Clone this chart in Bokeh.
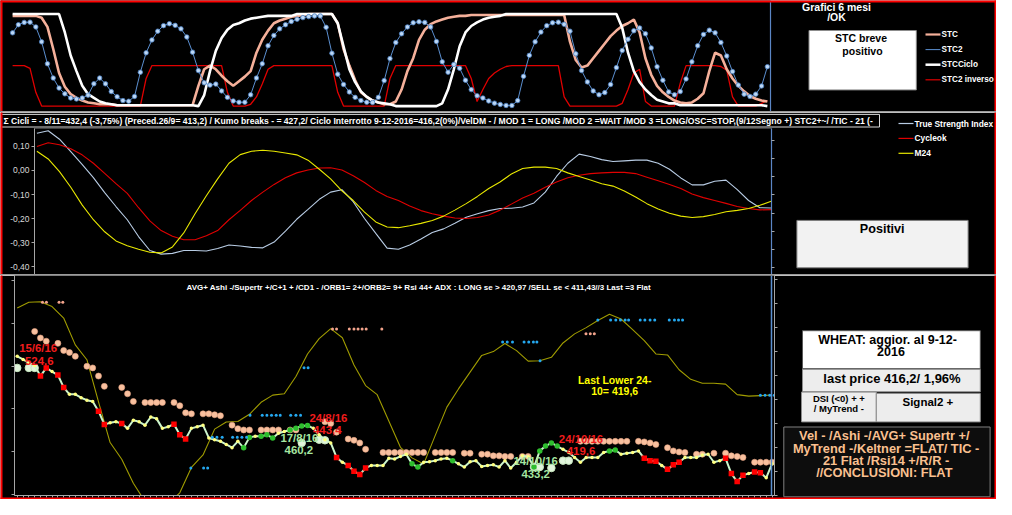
import numpy as np
from bokeh.plotting import figure
from bokeh.models import (Range1d, LinearAxis, FixedTicker, SingleIntervalTicker,
                          CustomJSTickFormatter, Span)
from bokeh.embed import file_html
from bokeh.resources import INLINE
from bokeh.core.properties import value

# ------------------------------------------------------------------ data
days = list(range(131))            # trading days 15/6/16 .. 9/12/16
osc_days = list(range(0, 131, 2))  # oscillators / ADX sampled every 2nd day

stc = [98, 98, 98, 98, 98, 96, 86, 62, 36, 21,
       13, 9, 6, 4, 3, 2, 2, 2, 1, 1,
       1, 1, 1, 1, 1, 1, 1, 1, 1, 1,
       1, 1, 22, 40, 44, 40, 33, 27, 22, 27,
       32, 38, 58, 72, 82, 90, 93, 95, 97, 98,
       99, 100, 100, 100, 100, 100, 90, 62, 44, 28,
       15, 10, 6, 4, 2, 2, 5, 18, 38, 52,
       72, 83, 89, 92, 94, 96, 97, 98, 98, 99,
       99, 99, 99, 99, 99, 99, 99, 99, 99, 99,
       99, 99, 99, 99, 99, 99, 70, 50, 42, 44,
       52, 60, 68, 76, 82, 87, 90, 94, 80, 52,
       34, 22, 15, 10, 6, 4, 3, 4, 8, 14,
       38, 58, 55, 40, 30, 22, 16, 11, 8, 6,
       5]
stc2 = [79.6, 88.4, 90.9, 91.2, 86, 69.8, 46, 30.5, 19.6, 13.3,
        8.8, 7.7, 8.8, 11.9, 24.2, 30.5, 24.2, 15.8, 10.2, 6,
        5.3, 10.5, 36.8, 57.9, 71.9, 81.4, 87.4, 89.5, 87.7, 83.9,
        75.1, 58.6, 38.6, 25.3, 22.8, 23.9, 16.5, 9.5, 5.6, 4.2,
        4.2, 12.3, 30.5, 46, 65.6, 76.8, 83.9, 88.4, 91.9, 94.4,
        96.1, 97.2, 97.9, 97.9, 85.6, 57.5, 34.7, 23.5, 15.4, 9.5,
        6, 4.2, 3.9, 9.5, 27.7, 51.6, 69.1, 78.6, 86, 90.5,
        91.6, 90.9, 86, 70.2, 48.1, 36.8, 45.3, 41.1, 28.1, 17.9,
        11.2, 8.8, 5.6, 3.2, 1.8, 0.7, 0.7, 6, 32.3, 55.1,
        69.8, 80.4, 87.4, 90.5, 91.2, 88.8, 81.4, 56.8, 38.6, 26.3,
        16.5, 12.3, 14.7, 23.5, 41.8, 60.4, 72.6, 81.8, 84.9, 78.6,
        63.2, 42.8, 28.1, 15.4, 12.3, 15.8, 29.5, 48.1, 65.6, 77.9,
        82.5, 79.6, 69.1, 54.4, 37.5, 22.8, 13, 10.5, 13, 21.8,
        42.8]
stc_ciclo = [100, 100, 100, 100, 100, 100, 100, 100, 100, 80,
             55, 38, 22, 13, 9, 5, 3, 2, 1, 1,
             1, 1, 1, 1, 1, 1, 1, 1, 1, 1,
             1, 1, 0, 12, 38, 60, 74, 83, 88, 90,
             93, 95, 96, 97, 98, 98, 98, 98, 98, 100,
             100, 100, 100, 100, 100, 100, 90, 65, 40, 26,
             16, 10, 6, 4, 3, 2, 0, 0, 0, 0,
             0, 0, 0, 0, 3, 18, 40, 65, 80, 87,
             91, 94, 96, 97, 98, 100, 100, 100, 100, 100,
             100, 100, 100, 100, 100, 100, 100, 100, 100, 100,
             100, 100, 100, 100, 100, 85, 58, 38, 26, 18,
             12, 7, 5, 3, 3, 1, 1, 1, 1, 1,
             1, 1, 1, 1, 1, 1, 1, 1, 1, 1,
             0]
stc2_inverso = [44, 44, 44, 41, 15, 0, 0, 0, 0, 0,
                0, 0, 0, 0, 0, 0, 0, 0, 0, 0,
                0, 0, 0, 30, 44, 44, 44, 44, 44, 44,
                44, 44, 44, 44, 44, 44, 44, 15, 0, 0,
                0, 2, 10, 24, 40, 44, 44, 44, 44, 44,
                44, 44, 44, 44, 44, 44, 15, 0, 0, 0,
                0, 0, 0, 0, 0, 30, 44, 44, 44, 44,
                44, 44, 44, 44, 44, 44, 44, 44, 44, 30,
                5, 18, 30, 36, 40, 43, 44, 44, 44, 44,
                44, 44, 44, 44, 44, 10, 0, 0, 0, 0,
                0, 0, 0, 0, 0, 3, 18, 36, 40, 5,
                0, 0, 0, 0, 0, 25, 44, 44, 44, 44,
                44, 44, 43, 39, 10, 0, 0, 0, 0, 3,
                6]
stc_series = ["STC", "STC2", "STCCiclo", "STC2 inverso"]

tsi = [0.155, 0.165, 0.13, 0.078, 0.025, -0.03, -0.092, -0.15, -0.205, -0.275,
       -0.333, -0.348, -0.345, -0.333, -0.333, -0.335, -0.325, -0.31, -0.314, -0.32,
       -0.322, -0.298, -0.252, -0.203, -0.162, -0.12, -0.09, -0.08, -0.13, -0.2,
       -0.262, -0.323, -0.328, -0.31, -0.285, -0.258, -0.243, -0.22, -0.195, -0.18,
       -0.167, -0.158, -0.157, -0.152, -0.135, -0.09, -0.025, 0.03, 0.068, 0.058,
       0.045, 0.037, 0.04, 0.043, 0.043, 0.03, 0.005, -0.031, -0.06, -0.06,
       -0.045, -0.04, -0.08, -0.125, -0.155, -0.156]
cycleok = [0.10, 0.115, 0.107, 0.09, 0.065, 0.03, -0.012, -0.055, -0.095, -0.155,
           -0.21, -0.25, -0.274, -0.288, -0.288, -0.272, -0.25, -0.205, -0.166, -0.125,
           -0.09, -0.058, -0.03, -0.01, 0.002, 0.01, 0.011, 0.002, -0.022, -0.05,
           -0.083, -0.108, -0.125, -0.148, -0.167, -0.18, -0.19, -0.198, -0.2, -0.196,
           -0.185, -0.165, -0.14, -0.115, -0.095, -0.07, -0.048, -0.03, -0.02, -0.013,
           -0.01, -0.008, -0.008, -0.013, -0.028, -0.043, -0.058, -0.075, -0.098, -0.113,
           -0.125, -0.137, -0.15, -0.158, -0.164, -0.163]
m24 = [0.08, 0.048, -0.005, -0.07, -0.143, -0.205, -0.255, -0.293, -0.313, -0.328,
       -0.34, -0.343, -0.318, -0.26, -0.18, -0.105, -0.035, 0.03, 0.066, 0.08,
       0.084, 0.08, 0.073, 0.065, 0.043, 0.005, -0.035, -0.085, -0.125, -0.173,
       -0.214, -0.235, -0.238, -0.23, -0.22, -0.208, -0.19, -0.165, -0.138, -0.108,
       -0.075, -0.048, -0.015, 0.008, 0.014, 0.014, 0.008, -0.01, -0.025, -0.04,
       -0.055, -0.065, -0.085, -0.11, -0.138, -0.16, -0.178, -0.19, -0.196, -0.192,
       -0.183, -0.172, -0.166, -0.158, -0.145, -0.128]
osc_series = ["True Strength Index", "Cycleok", "M24"]
osc_ticks = [-0.40, -0.30, -0.20, -0.10, 0.00, 0.10]
osc_right_ticks = [0.124, 0.048, -0.027, -0.102, -0.177, -0.252, -0.327, -0.403]

price = [490.0, 487.8, 485.5, 483.7, 476.4, 482.0, 479.5, 477.1, 468.6, 463.8,
         463.8, 461.5, 459.8, 458.9, 452.2, 443.1, 444.2, 444.9, 443.8, 440.4,
         446.0, 444.9, 442.6, 448.2, 447.1, 440.4, 441.5, 443.3, 436.0, 433.1,
         440.4, 441.5, 442.6, 433.8, 432.6, 431.5, 429.3, 427.1, 431.5, 427.1,
         434.2, 434.9, 434.9, 436.0, 433.8, 437.1, 438.2, 439.3, 440.4, 442.0,
         442.4, 440.4, 436.0, 432.6, 430.4, 420.4, 417.1, 414.9, 410.9, 408.6,
         413.1, 414.9, 414.9, 414.9, 419.8, 419.3, 421.1, 422.6, 416.0, 413.8,
         417.1, 417.5, 418.2, 419.3, 419.8, 418.2, 416.0, 413.8, 417.5, 418.2,
         414.2, 414.9, 415.3, 413.8, 418.2, 413.1, 417.1, 421.5, 420.9, 413.8,
         424.9, 428.2, 430.4, 428.2, 426.0, 423.8, 420.4, 417.1, 420.4, 420.4,
         420.4, 423.8, 424.9, 425.5, 422.6, 423.3, 423.8, 424.9, 419.8, 418.2,
         417.8, 414.9, 412.2, 415.3, 417.1, 420.4, 420.4, 420.4, 422.0, 422.6,
         417.1, 418.2, 419.8, 409.3, 403.8, 408.2, 409.3, 410.4, 409.9, 406.4,
         416.0]
red_days = [4, 5, 7, 8, 14, 15, 18, 27, 28, 29, 55, 57, 58, 59, 60,
            108, 109, 110, 112, 113, 114, 122, 123, 124, 125, 127, 128]
green_days = [39, 40, 42, 43, 44, 47, 48, 49, 50, 68, 69, 75, 89, 90, 91, 92, 93, 102, 103]
ashi = [None, None, None, 507.1, 502.6, 500.4, None, 498.9, 494.0, 492.6,
        490.0, None, 483.1, 482.0, 476.4, 469.3, None, None, 468.6, 464.2,
        458.9, None, 458.2, 458.2, 458.2, 458.2, None, 458.2, 456.0, 451.1,
        450.4, None, 450.4, 450.4, 449.8, 449.1, None, 442.6, 440.2, 439.3,
        439.3, None, 439.3, 439.3, 439.3, 439.3, None, 439.3, 439.3, None,
        None, None, None, 444.9, 443.8, 437.8, None, 433.1, 432.2, 430.4,
        426.0, None, None, 423.8, 423.8, 423.8, 423.8, 423.8, 423.8, 423.8,
        423.8, None, 423.8, 423.8, 423.8, 423.8, None, 423.3, 423.3, None,
        422.6, 422.6, 421.5, 421.5, 421.1, 421.1, None, 421.1, 421.1, None,
        None, None, None, None, None, None, None, 431.5, 431.5, 431.5,
        431.5, 431.5, 431.5, 431.5, 431.5, 431.5, None, 431.5, 431.1, 430.4,
        429.3, None, 427.1, 424.9, 424.2, 423.8, None, 422.6, 422.6, None,
        423.3, None, 423.3, 421.5, 421.1, 420.4, None, 417.1, 417.1, 417.1,
        417.1]
pale_days = [0, 2, 3, 49, 52, 53, 89, 90, 92, 94, 95]
pale_price = [482.0, 482.0, 482.0, 430.4, 432.6, 432.2, 413.8, 413.8, 413.1, 418.2, 418.2]
adx = [39.1, 40.3, 40.4, 39.4, 37.0, 31.4, 28.3, 19.5, 11.0, 7.5,
       2.5, -1.3, -3.2, -1.8, 0.5, 5.8, 8.4, 13.8, 15.3, 15.4,
       16.9, 19.4, 20.9, 21.2, 24.8, 29.5, 32.7, 34.8, 32.9, 27.2,
       22.9, 21.0, 15.5, 10.0, 7.8, 6.5, 12.5, 18.4, 22.2, 25.7,
       29.2, 30.0, 31.7, 30.2, 28.0, 28.1, 28.8, 31.8, 33.7, 35.0,
       36.5, 37.8, 36.8, 34.6, 32.3, 29.5, 29.3, 26.2, 24.2, 23.4,
       23.4, 23.2, 21.0, 20.7, 20.8, 20.9]
blue_day = [29.9, 32.1, 32.8,
            33.6, 34.4, 35.3, 37.1, 37.9, 38.7, 39.5,
            40.1, 42.2, 43.0, 43.8, 44.6, 45.3, 47.1, 48.0, 48.8,
            49.4, 50.1,
            83.6, 84.4, 85.3, 87.3, 88.1, 88.9, 89.5,
            90.05,
            100.0, 102.2, 103.1, 103.9, 104.7, 105.3, 107.3, 108.1, 109.0, 109.8,
            112.3, 113.2, 113.9, 114.6,
            128.0, 128.8, 129.6, 130.4]
blue_lvl = [5.7, 5.7, 5.7,
            12.1, 12.1, 12.1, 12.1, 12.1, 12.1, 12.1,
            16.7, 16.7, 16.7, 16.7, 16.7, 16.7, 16.7, 16.7, 16.7,
            26.6, 26.6,
            32.0, 32.0, 32.0, 32.0, 32.0, 32.0, 32.0,
            28.1,
            36.6, 36.6, 36.6, 36.6, 36.6, 36.6, 36.6, 36.6, 36.6, 36.6,
            36.6, 36.6, 36.6, 36.6,
            20.9, 20.9, 20.9, 20.9]
pink_day = [4.35, 5.03, 7.2, 7.85,
            54.3, 55.0, 57.2, 58.0, 58.7, 59.4, 60.1, 62.8,
            97.96, 98.7, 99.4]
pink_lvl = [40.3, 40.3, 40.3, 40.3,
            34.7, 34.7, 34.7, 34.7, 34.7, 34.7, 34.7, 34.7,
            33.7, 33.7, 33.7]
price_ticks = [394.6, 424.3, 453.8, 483.3, 512.8, 542.3]
adx_ticks = [0, 5, 10, 15, 20, 25, 30, 35, 40, 45]

lbl_text = ["15/6/16", "524,6", "24/8/16", "443,4", "17/8/16", "460,2",
            "24/10/16", "419,6", "14/10/16", "433,2"]
lbl_day = [3.6, 3.8, 53.6, 53.4, 48.6, 48.5, 97.1, 97.1, 89.3, 89.3]
lbl_price = [495.6, 486.9, 447.7, 439.3, 433.7, 425.3, 433.1, 424.9, 418.2, 409.3]
lbl_color = ["#f01c1c", "#f01c1c", "#f01c1c", "#f01c1c", "#a6e6a0", "#a6e6a0",
             "#f01c1c", "#f01c1c", "#a6e6a0", "#a6e6a0"]
last_text = ["Last Lower 24-", "10= 419,6"]
last_day = [102.9, 102.9]
last_price = [473.8, 466.0]

title2 = ("\u03a3 Cicli = - 8/11=432,4 (-3,75%) (Preced.26/9= 413,2) / Kumo breaks - = 427,2/  "
          "Ciclo Interrotto 9-12-2016=416,2(0%)/VelDM - / MOD 1 = LONG /MOD 2  =WAIT /MOD 3  "
          "=LONG/OSC=STOP,(9/12Segno +) STC2+~/  /TIC - 21 (-")
title3 = ("AVG+  Ashi -/Supertr +/C+1 + /CD1 - /ORB1= 2+/ORB2= 9+ Rsi 44+  ADX : LONG se > "
          "420,97 /SELL se < 411,43//3 Last =3 Flat")

# ------------------------------------------------------------------ helpers
FONT = "Liberation Sans"
W = 996
GRID = "#a6a6a6"


def make_fig(h, xr, yr, left, right, top, bottom, px, py, extra_y=None):
    p = figure(width=W, height=h, x_range=xr, y_range=yr,
               x_axis_type=None, y_axis_type=None,
               output_backend="svg", toolbar_location=None,
               min_border_left=left, min_border_right=right,
               min_border_top=top, min_border_bottom=bottom,
               background_fill_color="black", border_fill_color="black",
               outline_line_color=None)
    # "px"/"py": pixel coordinates of the canvas, for the boxes and legends
    p.extra_x_ranges = {"px": Range1d(*px)}
    ey = {"py": Range1d(*py)}
    if extra_y:
        ey.update(extra_y)
    p.extra_y_ranges = ey
    return p


def texts(p, xs, ys, labels, size, color, style="bold", align="center"):
    p.text(x=xs, y=ys, text=labels, x_range_name="px", y_range_name="py",
           level="overlay", text_font=value(FONT), text_font_size=size,
           text_font_style=style, text_color=color, text_align=align,
           text_baseline="middle")


def box(p, l, r, t, b, fill, line="#7f7f7f", lw=1):
    p.quad(left=[l], right=[r], top=[t], bottom=[b], x_range_name="px",
           y_range_name="py", level="overlay", fill_color=fill,
           line_color=line, line_width=lw)


def plain_axis(**kw):
    base = dict(axis_line_color=GRID, major_tick_line_color=GRID, major_tick_in=0,
                major_tick_out=3, minor_tick_line_color=None,
                major_label_text_color=None, major_label_text_font_size="1px",
                major_label_standoff=0)
    base.update(kw)
    return LinearAxis(**base)


def side_legend(p, x0, y0, step, labels, colors, widths, size):
    ys = [y0 + step * k for k in range(len(labels))]
    p.segment(x0=[x0] * len(ys), x1=[x0 + 15] * len(ys), y0=ys, y1=ys,
              line_color=colors, line_width=widths, x_range_name="px",
              y_range_name="py", level="overlay")
    texts(p, [x0 + 16] * len(ys), ys, labels, size, "white", align="left")
    return ys


# ------------------------------------------------------------------ row 1 : STC
p1 = make_fig(112, Range1d(-2.084, 130.54), Range1d(-6.95, 114.7),
              0, 226, 0, 0, (0, 770), (112, 0))
p1.add_layout(plain_axis(ticker=FixedTicker(ticks=[]), axis_line_color="#5b86c5",
                         axis_line_width=1.2, major_tick_line_color=None,
                         major_tick_out=0), "right")
p1.line(days, stc2_inverso, line_color="#e00000", line_width=1.3)
p1.line(days, stc, line_color="#f5b09a", line_width=2.6)
p1.line(days, stc_ciclo, line_color="white", line_width=2.6)
p1.line(days, stc2, line_color="#5b8fd0", line_width=1)
p1.scatter(days, stc2, marker="circle", size=4.5, fill_color="#bcd7f5",
           line_color="#4a7fc0", line_width=0.8)
leg1 = side_legend(p1, 925, 34, 15.1, stc_series,
                   ["#f5b09a", "#5b8fd0", "white", "#e00000"], [2.2, 1, 2.5, 1.2], "8.2px")
p1.scatter([932.5], [leg1[1]], x_range_name="px", y_range_name="py", level="overlay",
           marker="circle", size=4, fill_color="#bcd7f5", line_color="#4a7fc0", line_width=0.8)
texts(p1, [836, 836], [6, 16.5], ["Grafici 6 mesi", "/OK"], "10.5px", "white")
box(p1, 808.5, 915.8, 30, 89.4, "white", "#8c8c8c")
texts(p1, [862, 862], [37.8, 50.4], ["STC  breve", "positivo"], "10.5px", "black")
box(p1, 0, 996, 0, 2, "#ff0000", None)
box(p1, 0, 2, 0, 112, "#ff0000", None)
box(p1, 994, 996, 0, 112, "#ff0000", None)
box(p1, 0, 996, 110.5, 112, "#9a9a9a", None)

# ------------------------------------------------------------------ row 2 : oscillators
p2 = make_fig(163, Range1d(-0.425, 130.06), Range1d(-0.437, 0.1746),
              34, 225, 16, 0, (34, 771), (163, 16))
p2.add_layout(LinearAxis(ticker=FixedTicker(ticks=osc_ticks),
                         formatter=CustomJSTickFormatter(code="return tick.toFixed(2).replace('.', ',')"),
                         axis_line_color=GRID, major_tick_line_color=GRID, major_tick_in=0,
                         major_tick_out=3, minor_tick_line_color=None,
                         major_label_text_color="#d9d9d9", major_label_text_font=FONT,
                         major_label_text_font_size="8.5px", major_label_standoff=2), "left")
p2.add_layout(plain_axis(ticker=FixedTicker(ticks=osc_right_ticks), axis_line_color="#5b86c5",
                         axis_line_width=1.2), "right")
p2.line(osc_days, tsi, line_color="#b8cce4", line_width=1.1)
p2.line(osc_days, cycleok, line_color="#e00000", line_width=1.1)
p2.line(osc_days, m24, line_color="#e8e800", line_width=1.1)
side_legend(p2, 898, 11, 14.9, osc_series, ["#b8cce4", "#e00000", "#e8e800"],
            [1.2, 1.2, 1.2], "8.4px")
box(p2, 0, 879, 1.9, 14.5, None, "#d9d9d9")
texts(p2, [3], [8.2], [title2], "8.6px", "white", align="left")
box(p2, 796.4, 967.6, 107.9, 155.3, "#f2f2f2", "#7f7f7f")
texts(p2, [881.7], [116.3], ["Positivi"], "12.6px", "black")
box(p2, 0, 2, 0, 163, "#ff0000", None)
box(p2, 994, 996, 0, 163, "#ff0000", None)
box(p2, 0, 996, 161.5, 163, "#9a9a9a", None)

# ------------------------------------------------------------------ row 3 : price
p3 = make_fig(224, Range1d(-0.47, 130.43), Range1d(394.2, 545.6),
              14, 222, 0, 4, (14, 774), (220, 0),
              extra_y={"adx": Range1d(-0.06, 45.89)})
p3.add_layout(plain_axis(ticker=FixedTicker(ticks=price_ticks)), "left")
p3.add_layout(plain_axis(y_range_name="adx", ticker=FixedTicker(ticks=adx_ticks)), "right")
p3.add_layout(plain_axis(ticker=SingleIntervalTicker(interval=1, num_minor_ticks=0),
                         major_tick_out=2), "below")
p3.line(osc_days, adx, y_range_name="adx", line_color="#a09c00", line_width=1.1)
p3.scatter(days, np.array(ashi, dtype=float), size=6, fill_color="#f8c09f",
           line_color="#e8a583", line_width=0.6)
p3.scatter(pale_days, pale_price, size=7.5, fill_color="#e2f5dc", line_color="#c8e8c0")
p3.line(days, price, line_color="#ccf5cc", line_width=2)
yellow_days = [d for d in days if d not in red_days and d not in green_days]
p3.scatter(yellow_days, [price[d] for d in yellow_days], size=3.5,
           fill_color="#ffff80", line_color=None)
p3.scatter(red_days, [price[d] for d in red_days], marker="square", size=5.5,
           fill_color="#ff0000", line_color=None)
p3.scatter(green_days, [price[d] for d in green_days], size=5.5,
           fill_color="#2ebd2e", line_color=None)
p3.scatter(blue_day, blue_lvl, y_range_name="adx", size=3, fill_color="#24a8f0", line_color=None)
p3.scatter(pink_day, pink_lvl, y_range_name="adx", size=3, fill_color="#f3a48c", line_color=None)
p3.text(x=lbl_day, y=lbl_price, text=lbl_text, text_color=lbl_color,
        text_font=value(FONT), text_font_size="11.4px", text_font_style="bold",
        text_align="center", text_baseline="middle")
p3.text(x=last_day, y=last_price, text=last_text, text_color="#ffff00",
        text_font=value(FONT), text_font_size="10.5px", text_font_style="bold",
        text_align="center", text_baseline="middle")
p3.add_layout(Span(location=771, dimension="height", x_range_name="px",
                   line_color="#5b8fd0", line_width=1.5))
p3.add_layout(Span(location=799, dimension="height", x_range_name="px",
                   line_color="#8c8c8c", line_width=1))
texts(p3, [186], [11.6], [title3], "8px", "white", align="left")
box(p3, 802, 979.8, 55.2, 93, "white", "#595959")
texts(p3, [890.5, 890.5], [64, 75.6], ["WHEAT:  aggior. al  9-12-", "2016"], "12.5px", "black")
box(p3, 802, 979.8, 93.7, 116.3, "#ededed", "#8c8c8c")
texts(p3, [891.5], [102.7], ["last price 416,2/ 1,96%"], "13px", "black")
box(p3, 801, 875.8, 116.6, 146.4, "#ededed", "#8c8c8c")
texts(p3, [838.4, 838.4], [123, 132.8], ["DSI (<0) + +", "/ MyTrend -"], "9.5px", "black")
box(p3, 875.8, 979.8, 118, 146.4, "#ededed", "#8c8c8c")
texts(p3, [927.4], [126], ["Signal2 +"], "11.5px", "black")
box(p3, 783.3, 989.6, 151.5, 221.3, "#0d0d0d", "#808080")
texts(p3, [885.6, 885.6, 885.6, 885.6], [160.2, 172.8, 185.1, 197.4],
      ["Vel -  /Ashi -/AVG+ Supertr +/", "MyTrend -/Keltner =FLAT/ TIC -",
       "21 Flat /Rsi14 +/R/R -", "//CONCLUSIONI:  FLAT"], "12.8px", "#fac090")
box(p3, 0, 2, 0, 224, "#ff0000", None)
box(p3, 994, 996, 0, 224, "#ff0000", None)
box(p3, 0, 996, 222, 224, "#ff0000", None)

# three independent roots, stacked: each panel keeps its own frame geometry
open("out.html", "w").write(file_html([p1, p2, p3], INLINE))
